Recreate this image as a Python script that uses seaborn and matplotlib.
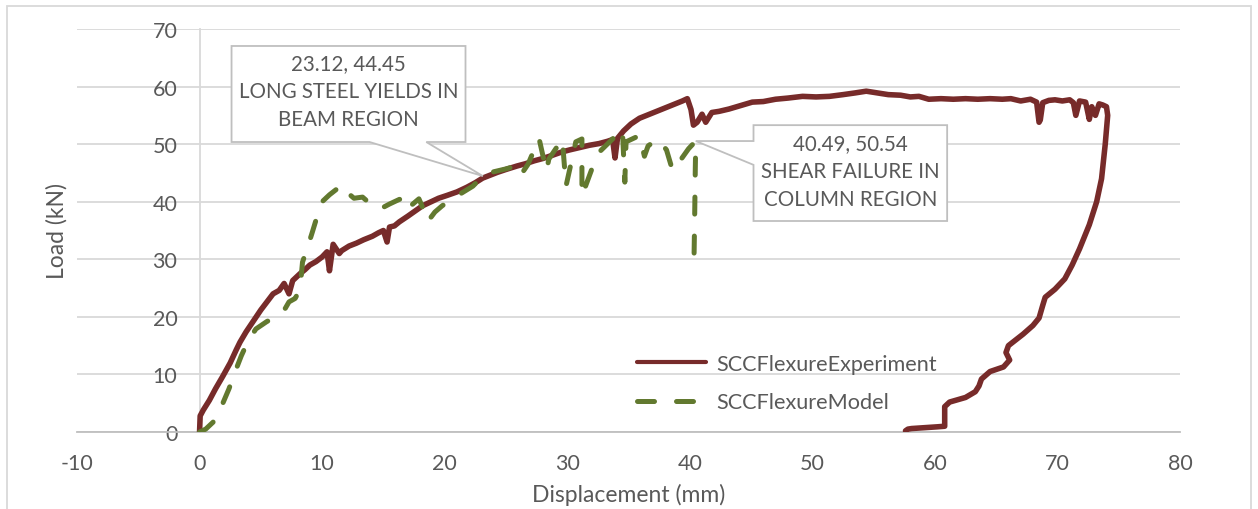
import numpy as np
import pandas as pd
import seaborn as sns
import matplotlib
matplotlib.use("Agg")
import matplotlib.pyplot as plt
from matplotlib.patches import Polygon, Rectangle
from matplotlib.lines import Line2D

# ---------------- data ----------------
exp_x = [0, 0.05, 0.3, 0.8, 1.3, 1.9, 2.5, 3.0, 3.3, 3.8, 4.4, 5.0, 5.5, 6.0, 6.5, 6.9, 7.3, 7.6,
         8.2, 8.6, 9.0, 9.5, 10.0, 10.4, 10.6, 10.9, 11.4, 11.6, 12.2, 12.8, 13.4, 14.1, 14.6, 15.0,
         15.3, 15.5, 15.9, 16.3, 17.0, 17.6, 18.2, 18.9, 19.5, 20.2, 21.0, 21.8, 22.5, 23.1, 23.7,
         24.3, 25.0, 25.9, 26.6, 27.3, 28.0, 28.7, 29.5, 30.2, 31.0, 31.8, 32.6, 33.3, 33.7, 33.9,
         34.1, 34.6, 35.2, 35.9, 36.6, 37.3, 38.0, 38.8, 39.4, 39.8, 40.1, 40.3, 40.6, 41.0, 41.3,
         41.8, 42.4, 43.2, 44.0, 45.1, 46.0, 47.0, 48.0, 49.2, 50.3, 51.4, 52.5, 53.5, 54.4, 55.3,
         56.2, 57.2, 58.0, 58.7, 59.5, 60.5, 61.5, 62.5, 63.5, 64.5, 65.5, 66.2, 67.0, 67.8, 68.3,
         68.5, 68.6, 68.8, 69.3, 69.8, 70.4, 71.0, 71.3, 71.5, 71.8, 72.3, 72.6, 72.8, 73.1, 73.4,
         73.7, 74.0, 74.1,
         73.9, 73.6, 73.2, 72.6, 71.8, 71.2, 70.6, 69.8, 69.0, 68.8, 68.5, 68.0, 67.2, 66.6, 66.0,
         65.8, 66.1, 65.6, 64.5, 63.8, 63.6, 63.3, 62.5, 61.2, 60.8, 60.8, 60.2, 58.1, 57.8, 57.6]
exp_y = [0, 2.8, 3.8, 5.5, 7.5, 9.7, 12.0, 14.3, 15.6, 17.4, 19.3, 21.2, 22.6, 24.0, 24.6, 25.8, 24.0, 26.3,
         27.5, 28.2, 29.0, 29.6, 30.4, 31.3, 28.0, 32.6, 31.0, 31.5, 32.3, 32.8, 33.4, 34.0, 34.6, 35.0,
         33.0, 35.6, 35.8, 36.5, 37.5, 38.4, 39.3, 40.0, 40.6, 41.1, 41.7, 42.5, 43.3, 44.1, 44.6,
         45.1, 45.6, 46.2, 46.6, 47.1, 47.5, 48.0, 48.6, 49.0, 49.4, 49.8, 50.1, 50.5, 50.8, 47.6,
         51.0, 52.3, 53.5, 54.5, 55.1, 55.7, 56.3, 57.0, 57.5, 57.9, 56.0, 53.3, 53.8, 55.2, 53.8,
         55.5, 55.7, 56.1, 56.6, 57.3, 57.4, 57.8, 58.0, 58.3, 58.2, 58.3, 58.6, 58.9, 59.2, 58.9,
         58.6, 58.5, 58.2, 58.3, 57.8, 57.9, 57.8, 57.9, 57.8, 57.9, 57.8, 57.9, 57.5, 57.8, 57.3,
         53.8, 54.2, 57.2, 57.6, 57.7, 57.5, 57.7, 57.2, 55.0, 57.5, 57.3, 54.3, 56.5, 55.0, 57.0,
         56.8, 56.5, 55.0,
         50.0, 44.0, 40.0, 36.0, 31.8, 29.0, 26.6, 24.8, 23.4, 22.0, 19.8, 18.5, 17.0, 16.0, 15.0,
         13.8, 12.5, 11.3, 10.5, 9.2, 8.0, 7.0, 6.0, 5.2, 4.4, 1.0, 0.9, 0.6, 0.5, 0.2]

mod_x = [0, 0.5, 1.1, 1.8, 2.4, 3.0, 3.4, 4.0, 4.6, 5.5, 6.3, 7.0, 7.3, 7.8, 8.2, 8.4, 8.8, 9.2, 9.6,
         10.0, 10.6, 11.2, 11.5, 12.0, 12.6, 13.3, 14.0, 14.7, 15.5, 16.3, 16.6, 16.9, 17.4, 17.9,
         18.3, 18.6, 19.2, 19.8, 21.0, 22.3, 23.12, 24.0, 25.0, 25.8, 26.2, 26.8, 27.7, 28.3, 28.5,
         29.6, 29.9, 30.7, 31.2, 31.2, 32.1, 32.6, 33.7, 34.5, 34.7, 34.8, 35.9, 36.3, 36.6, 37.4,
         38.1, 38.6, 39.3, 39.9, 40.49, 40.45, 40.4, 40.35]
mod_y = [0, 0.5, 1.7, 4.5, 7.5, 11.0, 13.2, 16.0, 17.9, 19.2, 20.0, 21.5, 22.6, 23.2, 24.8, 29.5, 32.0, 34.7, 37.5,
         40.0, 41.2, 42.2, 41.0, 41.7, 40.6, 40.8, 39.5, 38.7, 39.6, 40.4, 40.5, 38.7, 39.6, 40.5,
         38.5, 36.5, 38.2, 39.3, 41.0, 42.7, 44.45, 45.2, 45.7, 46.2, 44.6, 46.5, 51.0, 45.3, 47.4,
         50.9, 42.7, 50.4, 50.9, 41.0, 46.2, 48.6, 50.9, 52.6, 43.4, 50.4, 51.5, 47.9, 49.7, 50.9,
         49.0, 45.4, 47.4, 49.2, 50.54, 45.7, 37.5, 30.7]

series_names = ["SCCFlexureExperiment", "SCCFlexureModel"]
x_ticks = [-10, 0, 10, 20, 30, 40, 50, 60, 70, 80]
y_ticks = [0, 10, 20, 30, 40, 50, 60, 70]
x_label = "Displacement (mm)"
y_label = "Load (kN)"
ann1_point = (23.12, 44.45)
ann1_text = "23.12, 44.45\nLONG STEEL YIELDS IN\nBEAM REGION"
ann2_point = (40.49, 50.54)
ann2_text = "40.49, 50.54\nSHEAR FAILURE IN\nCOLUMN REGION"

# ---------------- style ----------------
sns.set_theme(style="white")
plt.rcParams["font.family"] = ["Lato", "DejaVu Sans"]

EXP_COLOR = "#772B2A"
MOD_COLOR = "#62792F"
GRID = "#D9D9D9"
TXT = "#595959"

W, H = 1258, 510
fig = plt.figure(figsize=(W / 100, H / 100), dpi=100)
ax = fig.add_axes([77 / W, 1 - 433 / H, (1180 - 77) / W, (433 - 30) / H])

df_exp = pd.DataFrame({"x": exp_x, "y": exp_y})
df_mod = pd.DataFrame({"x": mod_x, "y": mod_y})

sns.lineplot(data=df_exp, x="x", y="y", sort=False, estimator=None, ax=ax,
             color=EXP_COLOR, linewidth=4.0, zorder=3)
dash = (0, (3.4, 4.4))
sns.lineplot(data=df_mod, x="x", y="y", sort=False, estimator=None, ax=ax,
             color=MOD_COLOR, linewidth=3.6, linestyle=dash, dash_capstyle="round",
             zorder=4)

ax.set_xlim(-10, 80)
ax.set_ylim(0, 70)
ax.set_xticks(x_ticks)
ax.set_yticks(y_ticks)
ax.set_xticklabels([str(v) for v in x_ticks])
ax.set_yticklabels([str(v) for v in y_ticks])

ax.grid(False)
ax.yaxis.grid(True, color=GRID, linewidth=1.3, zorder=0)
ax.set_axisbelow(True)
for s in ["top", "right"]:
    ax.spines[s].set_visible(False)
ax.spines["left"].set_position(("data", 0))
ax.spines["left"].set_color(GRID)
ax.spines["left"].set_linewidth(1.3)
ax.spines["bottom"].set_color("#BFBFBF")
ax.spines["bottom"].set_linewidth(1.3)
ax.tick_params(axis="both", length=0, labelsize=15.5, labelcolor=TXT)
ax.tick_params(axis="y", pad=16)
ax.tick_params(axis="x", pad=15)

ax.set_xlabel(x_label, fontsize=16.5, color=TXT, labelpad=7)
ax.set_ylabel(y_label, fontsize=16.5, color=TXT)
ax.yaxis.set_label_coords((68 - 77) / (1180 - 77), 0.5)

# legend
handles = [Line2D([], [], color=EXP_COLOR, linewidth=3.0),
           Line2D([], [], color=MOD_COLOR, linewidth=3.6, linestyle=dash, dash_capstyle="round")]
leg = ax.legend(handles, series_names, loc="upper left", frameon=False,
                bbox_to_anchor=(637 / W, 1 - 355 / H), bbox_transform=fig.transFigure,
                borderpad=0, borderaxespad=0, handlelength=3.2, handletextpad=0.45,
                labelspacing=0.85, fontsize=15.6)
for t in leg.get_texts():
    t.set_color(TXT)

# callouts
def callout(poly, center, text):
    p = Polygon(poly, closed=True, facecolor="white", edgecolor="#BFBFBF",
                linewidth=1.3, zorder=6)
    ax.add_patch(p)
    ax.text(center[0], center[1], text, ha="center", va="center", fontsize=14.8,
            color=TXT, zorder=7, linespacing=1.5)

px, py = ann1_point
callout([(2.61, 67.05), (21.7, 67.05), (21.7, 50.37), (18.5, 50.37), (px, py),
         (13.87, 50.37), (2.61, 50.37)], (12.15, 59.2), ann1_text)
px, py = ann2_point
callout([(45.2, 53.3), (61.0, 53.3), (61.0, 36.65), (45.2, 36.65), (45.2, 46.4),
         (px, py), (45.2, py)], (53.1, 45.3), ann2_text)

# outer chart border
fig.patches.append(Rectangle((7 / W, -0.1), (1251 - 7) / W, 1.1 - 7 / H,
                             transform=fig.transFigure, fill=False,
                             edgecolor=GRID, linewidth=1.3))

fig.savefig("out.png", dpi=100)
